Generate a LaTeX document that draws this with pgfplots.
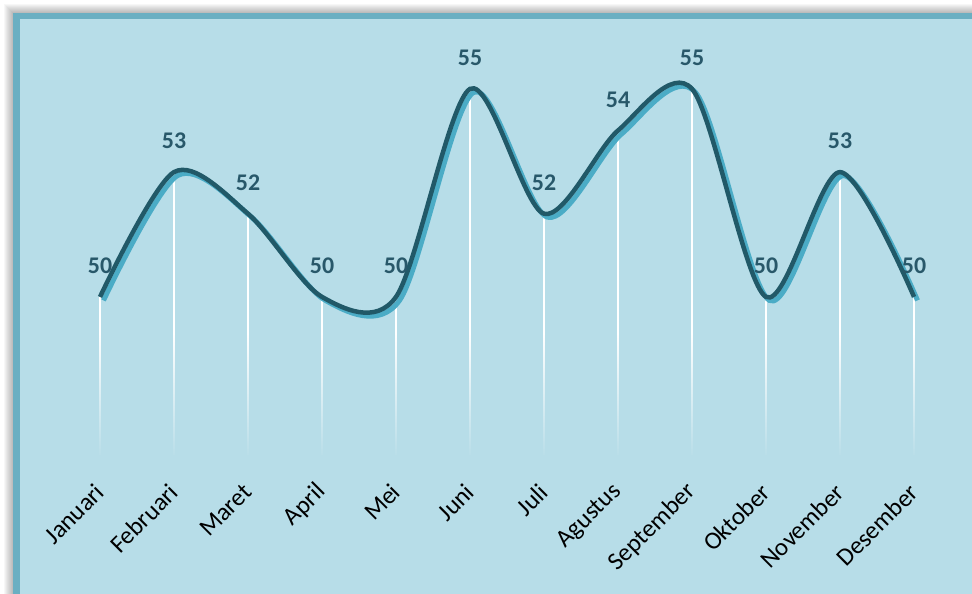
\documentclass[border=0pt]{standalone}
\usepackage{pgfplots}
\pgfplotsset{compat=1.18}
\usepackage{fontspec}
\setmainfont{Carlito}
\usetikzlibrary{fadings}
\definecolor{bgc}{HTML}{B7DDE8}
\definecolor{brd}{HTML}{6AAFC2}
\definecolor{lined}{HTML}{215968}
\definecolor{linesh}{HTML}{4BACC6}
\definecolor{lbl}{HTML}{28586A}
\tikzfading[name=myfade, top color=transparent!100, bottom color=transparent!0]
\begin{document}
\begin{tikzpicture}[x=1bp,y=1bp]
\useasboundingbox (0,0) rectangle (972,594);
\fill[white] (0,0) rectangle (972,594);
\foreach \i in {0,...,9} {\fill[black, opacity=0.03] (13-\i,-20) rectangle (990,581+\i);}
\fill[brd] (13,-20) rectangle (990,581);
\fill[bgc] (20,-20) rectangle (990,575);
\begin{axis}[
  x=74bp, y=41.6bp,
  xmin=-0.9, xmax=11.7, ymin=46.2, ymax=57,
  anchor=south west, at={(33.4bp,139bp)},
  axis line style={draw=none},
  major tick length=0pt,
  ytick=\empty,
  xtick={0,...,11},
  xticklabels={Januari,Februari,Maret,April,Mei,Juni,Juli,Agustus,September,Oktober,November,Desember},
  xticklabel style={rotate=45, anchor=east, inner sep=0pt, font=\fontsize{25}{25}\selectfont, text=black},
  xticklabel shift=33bp,
  /pgf/number format/assume math mode=true,
]
\addplot[ycomb, white, line width=2.6bp, mark=none] coordinates {
(0,50) (1,53) (2,52) (3,50) (4,50) (5,55) (6,52) (7,54) (8,55) (9,50) (10,53) (11,50)};
\fill[bgc, path fading=myfade] (axis cs:-0.9,46.1) rectangle (axis cs:11.7,49.1);
\addplot[smooth, tension=0.5, linesh, line width=5bp, mark=none, xshift=3.5bp, yshift=-3.5bp] coordinates {
(0,50) (1,53) (2,52) (3,50) (4,50) (5,55) (6,52) (7,54) (8,55) (9,50) (10,53) (11,50)};
\addplot[smooth, tension=0.5, lined, line width=4.5bp, mark=none,
  nodes near coords,
  nodes near coords style={font=\bfseries\fontsize{24}{24}\selectfont, text=lbl, anchor=south, inner sep=0pt, yshift=21bp}] coordinates {
(0,50) (1,53) (2,52) (3,50) (4,50) (5,55) (6,52) (7,54) (8,55) (9,50) (10,53) (11,50)};
\end{axis}
\end{tikzpicture}
\end{document}
